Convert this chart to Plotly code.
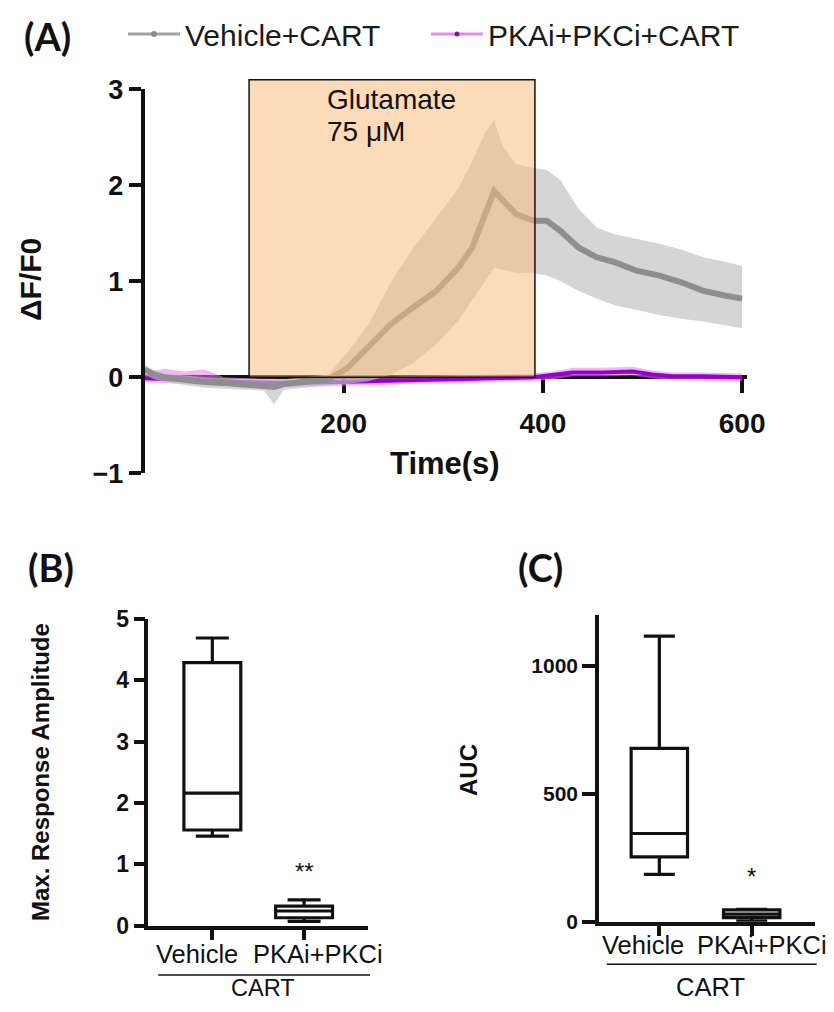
import plotly.graph_objects as go

# ---------------- Panel A data (time course, mean +/- band) ----------------
t_vehicle = [0, 10, 20, 40, 60, 80, 100, 120, 130, 140, 160, 185, 203, 225, 248, 270,
             293, 315, 329, 342, 351, 360, 373, 391, 404, 418, 436, 454, 472, 494,
             517, 539, 561, 584, 600]
vehicle_mean = [0.08, 0.03, 0.0, -0.03, -0.05, -0.06, -0.07, -0.08, -0.10, -0.07, -0.05,
                -0.02, 0.09, 0.32, 0.56, 0.73, 0.90, 1.14, 1.35, 1.70, 1.94, 1.84, 1.70,
                1.63, 1.63, 1.52, 1.35, 1.25, 1.20, 1.11, 1.06, 0.99, 0.90, 0.85, 0.82]
vehicle_upper = [0.13, 0.07, 0.04, 0.02, 0.0, -0.01, -0.01, -0.02, -0.03, -0.02, 0.0,
                 0.03, 0.25, 0.55, 1.00, 1.35, 1.66, 1.97, 2.25, 2.55, 2.68, 2.40, 2.22,
                 2.18, 2.16, 2.05, 1.75, 1.56, 1.49, 1.44, 1.39, 1.33, 1.25, 1.20, 1.16]
vehicle_lower = [0.03, -0.02, -0.05, -0.08, -0.11, -0.12, -0.13, -0.14, -0.28, -0.13, -0.11,
                 -0.08, -0.07, -0.04, 0.03, 0.15, 0.35, 0.59, 0.80, 1.00, 1.14, 1.12, 1.09,
                 1.08, 1.06, 1.00, 0.90, 0.82, 0.75, 0.70, 0.65, 0.61, 0.58, 0.54, 0.51]

t_inhib = [0, 20, 40, 60, 80, 100, 150, 200, 240, 260, 300, 350, 390, 410, 430, 460,
           490, 510, 530, 560, 600]
inhib_mean = [-0.01, -0.02, -0.03, -0.04, -0.05, -0.05, -0.06, -0.05, -0.04, -0.03, -0.02,
              -0.01, 0.0, 0.02, 0.05, 0.05, 0.06, 0.03, 0.01, 0.01, 0.0]
inhib_upper = [0.05, 0.09, 0.06, 0.08, 0.0, -0.01, -0.02, -0.01, 0.0, 0.01, 0.02, 0.03,
               0.04, 0.06, 0.10, 0.10, 0.11, 0.07, 0.05, 0.05, 0.04]
inhib_lower = [-0.05, -0.06, -0.07, -0.08, -0.09, -0.09, -0.10, -0.09, -0.08, -0.07, -0.06,
               -0.05, -0.04, -0.02, 0.01, 0.01, 0.02, -0.01, -0.03, -0.03, -0.04]

series_names = ["Vehicle+CART", "PKAi+PKCi+CART"]
glutamate_window = [105, 392]   # seconds
glutamate_top = 3.10            # in dF/F0 units
glutamate_lines = ["Glutamate", "75 \u03bcM"]
glutamate_text_y = [2.89, 2.56]
glutamate_text_t = 181

# ---------------- Panels B and C data (box summaries) ----------------
groups = ["Vehicle", "PKAi+PKCi"]
amp_min = [1.46, 0.07]
amp_q1 = [1.56, 0.13]
amp_median = [2.16, 0.24]
amp_q3 = [4.29, 0.32]
amp_max = [4.69, 0.42]
amp_sig = ["", "**"]
amp_sig_y = [None, 0.88]

auc_min = [185, 2]
auc_q1 = [254, 16]
auc_median = [345, 30]
auc_q3 = [678, 46]
auc_max = [1117, 48]
auc_sig = ["", "*"]
auc_sig_y = [None, 176]

# ---------------- layout geometry ----------------
# page body keeps its default 8px margin, so the figure is 16px smaller than the window
OFF = 8
FW, FH = 818, 996
FONT = "Liberation Sans, Arial, sans-serif"
LET = "Lato, Liberation Sans, sans-serif"
BLACK = "#111111"

def fx(px):           # window x pixel -> paper fraction
    return (px - OFF) / FW

def fy(py):           # window y pixel -> paper fraction
    return 1 - (py - OFF) / FH

def px_dom(a, b):
    return [fx(a), fx(b)]

def py_dom(top, bottom):
    return [fy(bottom), fy(top)]

A_xr = [0, 605]
A_x = px_dom(144.5, 144.5 + 0.996 * A_xr[1])
A_y = py_dom(89.3, 473.3)
A_yr = [-1, 3]

def A_ypaper(v):
    return A_y[0] + (v - A_yr[0]) / (A_yr[1] - A_yr[0]) * (A_y[1] - A_y[0])

B_x = px_dom(148.3, 368.3)
B_y = py_dom(619, 925.7)
C_x = px_dom(599, 815)
C_y = py_dom(615, 921.7)

fig = go.Figure()

gray_line = "#8e8e8e"
gray_band = "rgba(190,190,190,0.65)"
purple_line = "#9400d3"
purple_band = "rgba(238,120,238,0.55)"

fig.add_trace(go.Scatter(x=t_inhib + t_inhib[::-1], y=inhib_upper + inhib_lower[::-1],
                         fill="toself", fillcolor=purple_band, line=dict(width=0),
                         mode="lines", showlegend=False, hoverinfo="skip",
                         xaxis="x", yaxis="y"))
fig.add_trace(go.Scatter(x=t_inhib, y=inhib_mean, mode="lines",
                         line=dict(color=purple_line, width=4), showlegend=False,
                         xaxis="x", yaxis="y"))
fig.add_trace(go.Scatter(x=t_vehicle + t_vehicle[::-1], y=vehicle_upper + vehicle_lower[::-1],
                         fill="toself", fillcolor=gray_band, line=dict(width=0),
                         mode="lines", showlegend=False, hoverinfo="skip",
                         xaxis="x", yaxis="y"))
fig.add_trace(go.Scatter(x=t_vehicle, y=vehicle_mean, mode="lines",
                         line=dict(color=gray_line, width=6), showlegend=False,
                         xaxis="x", yaxis="y"))

# legend-only entries (one legend each, so their spacing can follow the reference)
fig.add_trace(go.Scatter(x=[None], y=[None], mode="lines+markers", name=series_names[0],
                         line=dict(color="#a3a3a3", width=3),
                         marker=dict(color="#8a8a8a", size=6), xaxis="x", yaxis="y",
                         legend="legend"))
fig.add_trace(go.Scatter(x=[None], y=[None], mode="lines+markers", name=series_names[1],
                         line=dict(color="#e58ae8", width=3),
                         marker=dict(color="#7a1a9a", size=5), xaxis="x", yaxis="y",
                         legend="legend2"))

fig.add_trace(go.Box(x=[0, 1], q1=amp_q1, median=amp_median, q3=amp_q3,
                     lowerfence=amp_min, upperfence=amp_max, width=0.62, whiskerwidth=0.58,
                     fillcolor="white", line=dict(color=BLACK, width=3.2),
                     boxpoints=False, showlegend=False, xaxis="x2", yaxis="y2"))
fig.add_trace(go.Box(x=[0, 1], q1=auc_q1, median=auc_median, q3=auc_q3,
                     lowerfence=auc_min, upperfence=auc_max, width=0.61, whiskerwidth=0.55,
                     fillcolor="white", line=dict(color=BLACK, width=3.2),
                     boxpoints=False, showlegend=False, xaxis="x3", yaxis="y3"))

def tf(size):
    return dict(family=FONT, size=size, color=BLACK, weight="bold")

axis_common = dict(showgrid=False, zeroline=False, showline=True, linecolor=BLACK,
                   linewidth=3.5, ticks="outside", tickcolor=BLACK, tickwidth=3.5,
                   automargin=False)

legend_common = dict(orientation="h", y=1.0, xanchor="left", yanchor="top",
                     font=dict(family=FONT, size=30, color="#1a1a1a"),
                     bgcolor="rgba(0,0,0,0)", itemwidth=52)

fig.update_layout(
    template="none",
    width=FW, height=FH, margin=dict(l=0, r=0, t=0, b=0, autoexpand=False),
    paper_bgcolor="white", plot_bgcolor="rgba(0,0,0,0)",
    showlegend=True,
    legend=dict(x=fx(123), **legend_common),
    legend2=dict(x=fx(426), **legend_common),
    xaxis=dict(domain=A_x, range=A_xr, anchor="free", position=A_ypaper(0),
               tickvals=[200, 400, 600], ticklen=14, ticklabelstandoff=6,
               layer="below traces", tickfont=tf(28), **axis_common),
    yaxis=dict(domain=A_y, range=A_yr, anchor="x", tickvals=[-1, 0, 1, 2, 3], ticklen=12,
               tickfont=tf(27), **axis_common),
    xaxis2=dict(domain=B_x, range=[-0.698, 1.70], anchor="y2", tickvals=[0, 1],
                showticklabels=False, ticklen=11, **axis_common),
    yaxis2=dict(domain=B_y, range=[0, 5], anchor="x2", tickvals=[0, 1, 2, 3, 4, 5],
                ticklen=11, tickfont=tf(23), **axis_common),
    xaxis3=dict(domain=C_x, range=[-0.653, 1.685], anchor="y3", tickvals=[0, 1],
                showticklabels=False, ticklen=11, **axis_common),
    yaxis3=dict(domain=C_y, range=[0, 1200], anchor="x3", tickvals=[0, 500, 1000],
                ticklen=13, tickfont=tf(21), **axis_common),
)

fig.add_shape(type="rect", xref="x", yref="paper",
              x0=glutamate_window[0], x1=glutamate_window[1],
              y0=A_ypaper(0), y1=A_ypaper(glutamate_top),
              fillcolor="rgba(251,190,127,0.55)", line=dict(color=BLACK, width=1.5),
              layer="above")

ann = []
def text(x, y, s, size, bold=False, xref="paper", yref="paper", xanchor="center",
         yanchor="middle", angle=0, family=FONT, align="center", xshift=0, yshift=0):
    ann.append(dict(x=x, y=y, xref=xref, yref=yref, text=s, showarrow=False,
                    xanchor=xanchor, yanchor=yanchor, textangle=angle, align=align,
                    xshift=xshift, yshift=yshift,
                    font=dict(family=family, size=size, color=BLACK,
                              weight="bold" if bold else "normal")))

text(fx(22), fy(36), "(A)", 38, True, xanchor="left", family=LET)
text(fx(26), fy(567), "(B)", 38, True, xanchor="left", family=LET)
text(fx(516), fy(567), "(C)", 38, True, xanchor="left", family=LET)

for s, yv in zip(glutamate_lines, glutamate_text_y):
    text(glutamate_text_t, yv, s, 28, xref="x", yref="y", xanchor="left", align="left")
text(fx(30), fy(280), "\u0394F/F0", 30, True, angle=-90)
text(fx(444.5), fy(463), "Time(s)", 31, True)

text(fx(40), fy(772), "Max. Response Amplitude", 24, True, angle=-90)
shifts = [-15.6, 13.5]
for i, g in enumerate(groups):
    text(i, 0, g, 25.5, xref="x2", yref="y2", xshift=shifts[i], yshift=-28)
    if amp_sig[i]:
        text(i, amp_sig_y[i], amp_sig[i], 24, xref="x2", yref="y2")
fig.add_shape(type="line", xref="x2 domain", yref="paper", x0=0.045, x1=1.008,
              y0=fy(975), y1=fy(975), line=dict(color=BLACK, width=1.5))
text(0.523, fy(988), "CART", 23.5, xref="x2 domain", yref="paper")

text(fx(468), fy(770), "AUC", 24, True, angle=-90)
shifts = [-16, 10.6]
for i, g in enumerate(groups):
    text(i, 0, g, 25.5, xref="x3", yref="y3", xshift=shifts[i], yshift=-23)
    if auc_sig[i]:
        text(i, auc_sig_y[i], auc_sig[i], 24, xref="x3", yref="y3")
fig.add_shape(type="line", xref="x3 domain", yref="y3 domain", x0=0.036, x1=1.008,
              y0=-0.139, y1=-0.139, line=dict(color=BLACK, width=1.5))
text(0.514, -0.212, "CART", 25.5, xref="x3 domain", yref="y3 domain")

fig.update_layout(annotations=ann)
fig.write_html("out.html", config={"displayModeBar": False})
